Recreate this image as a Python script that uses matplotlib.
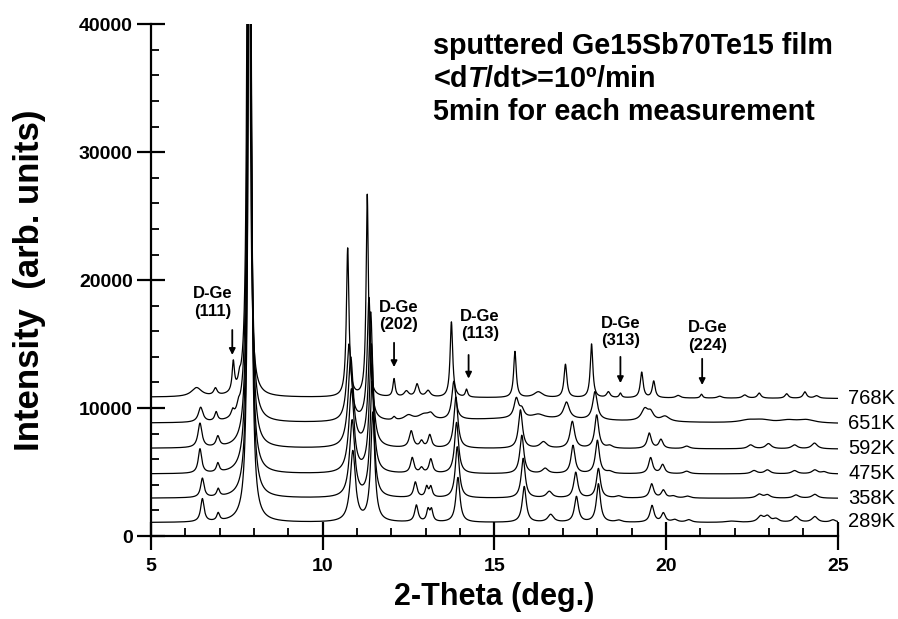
import numpy as np
import matplotlib.pyplot as plt

plt.rcParams['font.family'] = ['Liberation Sans', 'DejaVu Sans']
plt.rcParams['mathtext.fontset'] = 'custom'
plt.rcParams['mathtext.rm'] = 'Liberation Sans:bold'
plt.rcParams['mathtext.it'] = 'Liberation Sans:italic:bold'

# ---- data ----
TEMPS = ["289K", "358K", "475K", "592K", "651K", "768K"]
# background level (arb. units) at 2-theta = 5 and 25 deg
BG_LEFT = [1050, 2950, 4850, 6850, 8800, 10850]
BG_RIGHT = [1050, 2950, 4850, 6800, 8750, 10750]

# peaks: (2-theta, height above background, half width)
PEAKS_289K = [(6.50, 1800, 0.06), (6.96, 600, 0.05), (7.88, 70000, 0.045),
              (10.88, 5500, 0.09), (11.46, 8500, 0.07),
              (12.73, 1300, 0.06), (13.07, 900, 0.05), (13.17, 900, 0.05),
              (13.94, 3500, 0.07), (15.87, 2800, 0.07), (16.64, 600, 0.10),
              (17.39, 2000, 0.07), (18.03, 3000, 0.07), (18.62, 150, 0.10),
              (19.59, 1300, 0.07), (19.92, 700, 0.07), (20.25, 200, 0.10),
              (20.66, 200, 0.10), (21.90, 100, 0.20), (22.75, 450, 0.10),
              (22.95, 450, 0.10), (23.20, 250, 0.10), (23.78, 450, 0.10),
              (24.33, 450, 0.10), (24.86, 200, 0.10)]
PEAKS_358K = [(6.50, 1500, 0.06), (6.96, 600, 0.05), (7.88, 70000, 0.045),
              (10.86, 6000, 0.09), (11.44, 9000, 0.07),
              (12.70, 1200, 0.06), (13.03, 800, 0.05), (13.15, 800, 0.05),
              (13.92, 4000, 0.07), (15.84, 3100, 0.07), (16.60, 500, 0.10),
              (17.37, 2000, 0.07), (18.03, 2300, 0.07), (18.62, 150, 0.10),
              (19.58, 1100, 0.07), (19.92, 600, 0.07), (20.21, 150, 0.10),
              (20.62, 150, 0.10), (22.71, 300, 0.10), (22.95, 250, 0.10),
              (23.78, 250, 0.10), (24.33, 300, 0.10)]
PEAKS_475K = [(6.43, 1900, 0.06), (6.95, 700, 0.05), (7.87, 70000, 0.045),
              (10.84, 6500, 0.09), (11.42, 10000, 0.07),
              (12.61, 1200, 0.06), (12.88, 400, 0.06), (13.15, 1100, 0.06),
              (13.90, 4000, 0.07), (15.80, 3000, 0.07), (16.48, 400, 0.10),
              (17.29, 2200, 0.07), (18.00, 2600, 0.07), (18.36, 150, 0.10),
              (19.55, 1250, 0.07), (19.90, 700, 0.07), (20.60, 200, 0.10),
              (22.56, 250, 0.10), (22.95, 300, 0.10), (23.74, 250, 0.10),
              (24.33, 300, 0.10), (24.60, 150, 0.10)]
PEAKS_592K = [(6.43, 1900, 0.07), (6.95, 800, 0.06), (7.87, 70000, 0.045),
              (10.82, 7000, 0.09), (11.40, 10500, 0.07),
              (12.58, 1300, 0.07), (12.88, 500, 0.06), (13.12, 1000, 0.06),
              (13.88, 4000, 0.07), (15.76, 3000, 0.07), (16.43, 500, 0.12),
              (17.27, 2100, 0.08), (17.98, 2600, 0.07), (18.36, 200, 0.10),
              (19.51, 1200, 0.07), (19.85, 700, 0.07), (20.60, 200, 0.10),
              (22.46, 300, 0.10), (22.98, 400, 0.10), (23.74, 300, 0.10),
              (24.32, 450, 0.10)]
PEAKS_651K = [(6.45, 1150, 0.08), (6.90, 700, 0.05), (7.38, 500, 0.05),
              (7.55, 500, 0.05), (7.86, 70000, 0.045),
              (10.77, 6000, 0.08), (11.35, 9600, 0.06), (12.08, 250, 0.05),
              (12.50, 400, 0.15), (12.95, 450, 0.20), (13.15, 400, 0.10),
              (13.82, 3000, 0.07), (15.64, 1500, 0.08), (15.80, 600, 0.08),
              (16.28, 300, 0.20), (17.10, 1300, 0.10), (17.93, 2200, 0.08),
              (19.38, 900, 0.12), (19.55, 600, 0.10), (19.97, 400, 0.15),
              (22.40, 200, 0.30), (22.80, 200, 0.30), (23.55, 200, 0.30),
              (24.08, 250, 0.30), (16.00, 400, 3.00)]
PEAKS_768K = [(6.33, 700, 0.18), (6.88, 550, 0.06), (7.40, 2300, 0.04),
              (7.58, 600, 0.04), (7.84, 70000, 0.04),
              (10.73, 11600, 0.045), (11.30, 15800, 0.04), (12.08, 1400, 0.04),
              (12.44, 450, 0.08), (12.75, 1000, 0.06), (13.07, 500, 0.08),
              (13.75, 5900, 0.045), (14.19, 600, 0.04), (15.60, 3600, 0.045),
              (16.28, 450, 0.15), (17.07, 2600, 0.05), (17.83, 4200, 0.045),
              (18.32, 450, 0.06), (18.67, 350, 0.04), (19.29, 2000, 0.05),
              (19.64, 1300, 0.05), (20.35, 200, 0.08), (21.03, 300, 0.04),
              (21.56, 150, 0.08), (22.29, 250, 0.08), (22.71, 400, 0.06),
              (23.51, 350, 0.06), (24.04, 500, 0.06), (24.38, 200, 0.08)]

PEAK_SETS = [PEAKS_289K, PEAKS_358K, PEAKS_475K, PEAKS_592K, PEAKS_651K, PEAKS_768K]

DGE_LABELS = ["(111)", "(202)", "(113)", "(313)", "(224)"]
DGE_POS = [7.37, 12.08, 14.25, 18.67, 21.05]

INFO_LINES = ["sputtered Ge15Sb70Te15 film",
              "<d$T$/dt>=10\u00ba/min",
              "5min for each measurement"]

# ---- layout ----
DGE_TEXT_X = [6.81, 12.21, 14.58, 18.68, 21.22]
DGE_TEXT_Y = [18250, 17200, 16500, 15950, 15600]
DGE_ARROW_TOP = [16100, 15100, 14150, 14000, 13850]
DGE_ARROW_TIP = [14150, 13200, 12300, 11950, 11800]


def pattern(x, peaks, bg_left, bg_right):
    y = bg_left + (bg_right - bg_left) * (x - x[0]) / (x[-1] - x[0])
    for pos, h, w in peaks:
        y = y + h * w ** 2 / ((x - pos) ** 2 + w ** 2)
    return y


fig = plt.figure(figsize=(8.98, 6.19), dpi=100)
ax = fig.add_axes([0.168, 0.134, 0.765, 0.827])

tt = np.linspace(5, 25, 6001)
for temp, peaks, bl, br in zip(TEMPS, PEAK_SETS, BG_LEFT, BG_RIGHT):
    yy = pattern(tt, peaks, bl, br)
    ax.plot(tt, yy, color='black', lw=0.9)
    ax.text(25.3, yy[-1], temp, fontsize=14.5, va='center', ha='left', clip_on=False)

for lab, xp, tx, ty, top, tip in zip(DGE_LABELS, DGE_POS, DGE_TEXT_X, DGE_TEXT_Y,
                                    DGE_ARROW_TOP, DGE_ARROW_TIP):
    ax.text(tx, ty, "D-Ge\n" + lab, fontsize=12, fontweight='bold',
            ha='center', va='center', linespacing=1.2)
    ax.annotate("", xy=(xp, tip), xytext=(xp, top),
                arrowprops=dict(arrowstyle='-|>', color='black', lw=1.3,
                                mutation_scale=9, shrinkA=0, shrinkB=0))

for i, line in enumerate(INFO_LINES):
    ax.text(13.2, 38300 - i * 2600, line, fontsize=20.7, fontweight='bold',
            ha='left', va='center')

ax.set_xlim(5, 25)
ax.set_ylim(0, 40000)
ax.set_xticks([5, 10, 15, 20, 25])
ax.set_xticks(np.arange(5, 26, 1), minor=True)
ax.set_yticks([0, 10000, 20000, 30000, 40000])
ax.set_yticks(np.arange(0, 40001, 2000), minor=True)

for side in ['top', 'right']:
    ax.spines[side].set_visible(False)
for side in ['left', 'bottom']:
    ax.spines[side].set_linewidth(1.6)

ax.tick_params(which='major', direction='inout', length=20, width=1.6,
               labelsize=14, pad=3)
ax.tick_params(axis='x', which='major', pad=6)
ax.tick_params(which='minor', direction='in', length=6, width=1.3)
for lbl in ax.get_xticklabels() + ax.get_yticklabels():
    lbl.set_fontweight('bold')

ax.set_xlabel("2-Theta (deg.)", fontsize=22, fontweight='bold', labelpad=5)
ax.set_ylabel("Intensity  (arb. units)", fontsize=25, fontweight='bold', labelpad=24)

fig.savefig("out.png", dpi=100)
